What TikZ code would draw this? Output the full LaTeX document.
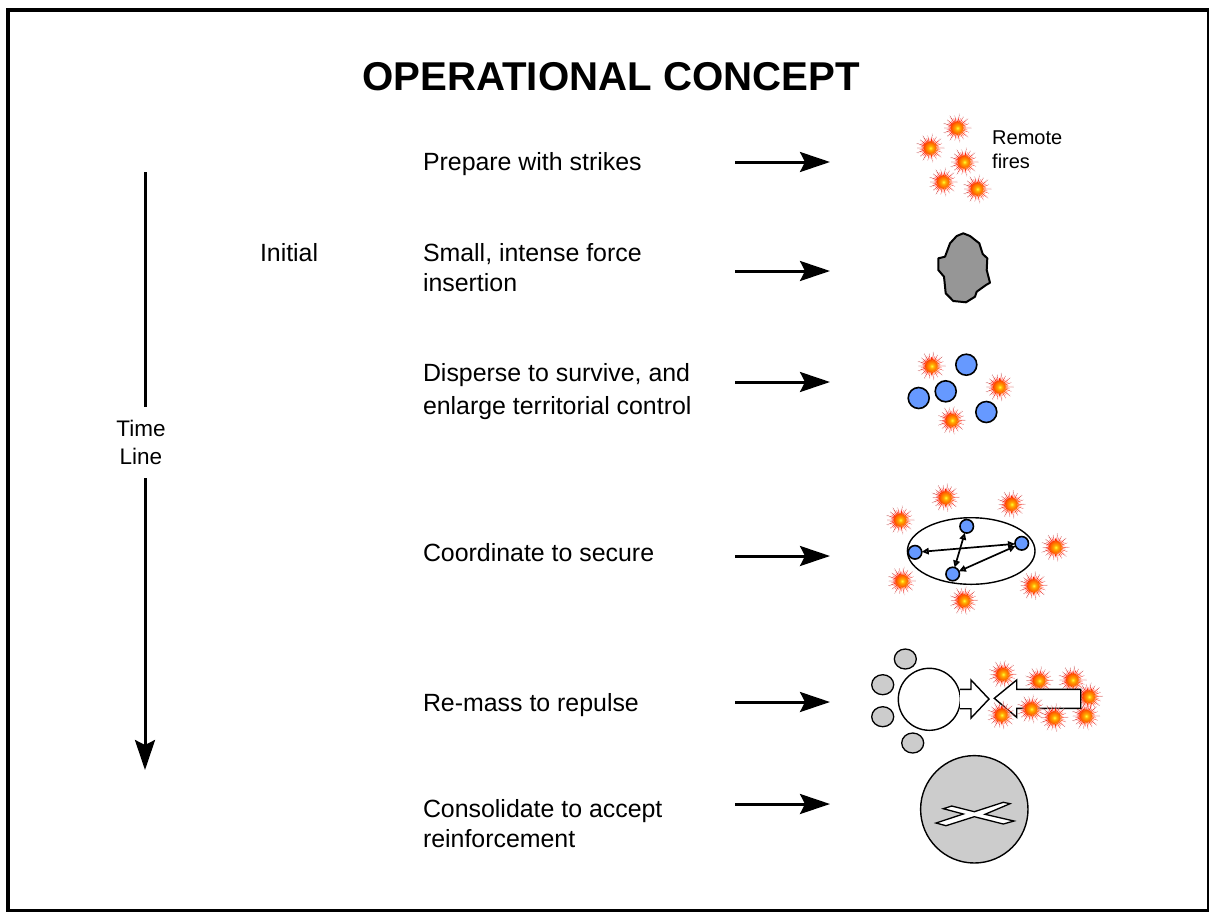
\documentclass[tikz,border=0pt]{standalone}
\usepackage{fontspec}
\setmainfont{Liberation Sans}
\usetikzlibrary{arrows.meta,shapes.geometric}
\definecolor{bluedot}{HTML}{6699FF}
\definecolor{lightgrey}{HTML}{CCCCCC}
\definecolor{blobgrey}{HTML}{969696}
\pgfdeclareradialshading{burstshade}{\pgfpoint{0bp}{0bp}}{
  color(0bp)=(yellow!80!white);
  color(4bp)=(orange!70!yellow);
  color(10bp)=(orange!75!red);
  color(16bp)=(red!90!orange);
  color(23bp)=(red!65!black);
  color(31bp)=(red!60!black);
  color(40bp)=(red!60!white);
  color(50bp)=(red!20!white)}
\gdef\burstpath{(0:14.5)}
\foreach \i in {0,...,35}{
  \pgfmathsetmacro\va{\i*10+5}
  \pgfmathsetmacro\sa{\i*10+10}
  \pgfmathparse{{10.5,13,9.5,14.5}[int(mod(\i,4))]}
  \let\sr\pgfmathresult
  \xdef\burstpath{\burstpath -- (\va:4.9) -- (\sa:\sr)}
}
\tikzset{
  burst/.pic={
    \fill[red!12!white,rotate=5] \burstpath;
    \shade[shading=burstshade] \burstpath;},
  label text/.style={anchor=west,align=left,inner sep=0pt,outer sep=0pt,font=\fontsize{24.9}{30}\selectfont,text=black},
  flow/.style={line width=3pt,-{Stealth[length=30pt,width=20pt,inset=5pt]}},
  bluedisc/.style={circle,draw=black,line width=1.6pt,fill=bluedot,inner sep=0pt,outer sep=0pt,minimum size=#1},
  greydisc/.style={ellipse,draw=black,line width=1.3pt,fill=lightgrey,inner sep=0pt,outer sep=0pt,minimum width=22pt,minimum height=20pt},
  link/.style={line width=1.7pt,{Triangle[length=7pt,width=6.5pt,fill=gray]}-{Triangle[length=7pt,width=6.5pt,fill=gray]}},
  blockarrow/.style={draw=black,line width=1.4pt,fill=white,line join=miter}
}
\begin{document}
\begin{tikzpicture}[x=1pt,y=-1pt]
\useasboundingbox (0,0) rectangle (1209,911);
\draw[line width=4pt] (8,10) rectangle (1209,911);

\node[anchor=center,inner sep=0pt,font=\fontsize{40.2}{46}\selectfont\bfseries] (title) at (611,77) {OPERATIONAL CONCEPT};

% time line
\coordinate (tstart) at (145,172);
\coordinate (tend) at (145,770);
\draw[line width=3pt,-{Stealth[length=30pt,width=20pt,inset=5pt]}] (tstart) -- (tend);
\node[fill=white,inner sep=0pt,minimum width=60pt,minimum height=71pt,align=center,font=\fontsize{22.5}{28}\selectfont] (timeline) at (141,442.5) {Time\\Line};

\node[label text] (initial) at (260,253) {Initial};
\node[label text] (t1) at (423,164) {Prepare with strikes};
\node[label text] (t2) at (423,268) {Small, intense force\\insertion};
\node[label text,font=\fontsize{24.9}{33}\selectfont] (t3) at (423,392) {Disperse to survive, and\\enlarge territorial control};
\node[label text] (t4) at (423,553) {Coordinate to secure};
\node[label text] (t5) at (423,705) {Re-mass to repulse};
\node[label text] (t6) at (423,824) {Consolidate to accept\\reinforcement};

% flow arrows
\foreach \n/\y in {1/162,2/271,3/382,4/556,5/702,6/804}{
  \coordinate (a\n) at (735,\y);
  \coordinate (b\n) at (830,\y);
  \draw[flow] (a\n) -- (b\n);
}

% row 1
\foreach \x/\y in {957/128,930/148,964/162,943/182,977/189}{\pic at (\x,\y) {burst};}
\node[anchor=west,align=left,inner sep=0pt,font=\fontsize{20}{24}\selectfont] (remote) at (992,150) {Remote\\fires};

% row 2
\draw[line width=2pt,fill=blobgrey,line join=round] (963.3,233.3) -- (970,236) -- (979.3,243.3) -- (982.7,254) -- (987.3,258.3) -- (986.7,270) -- (990,282.7) -- (986,285) -- (976.7,291.7) -- (975,296.7) -- (966,302.3) -- (953.3,301) -- (945.7,293.3) -- (944,276.7) -- (938.3,270) -- (938.3,258.3) -- (945,256.7) -- (950,243.3) -- (956.7,236) -- cycle;

% row 3
\foreach \x/\y in {931.3/366,999.3/387,951.7/420.3}{\pic at (\x,\y) {burst};}
\node[bluedisc=21pt] (d1) at (966.3,364.7) {};
\node[bluedisc=21pt] (d2) at (945.7,391.3) {};
\node[bluedisc=21pt] (d3) at (918.7,398) {};
\node[bluedisc=21pt] (d4) at (986.3,412) {};

% row 4
\foreach \x/\y in {945.3/497.7,1011.3/504.3,900/520,1055.3/547.3,901.7/581,1033.3/585.7,963.7/600.7}{\pic at (\x,\y) {burst};}
\node[ellipse,draw=black,line width=1.4pt,inner sep=0pt,minimum width=127.6pt,minimum height=66.6pt] (zone) at (971.2,551) {};
\node[bluedisc=13.5pt] (c1) at (966.7,526.3) {};
\node[bluedisc=13.5pt] (c2) at (915,552.3) {};
\node[bluedisc=13.5pt] (c3) at (1021.7,543.3) {};
\node[bluedisc=13.5pt] (c4) at (952.7,574) {};
\draw[link] (c2) -- (c3);
\draw[link] (c1) -- (c4);
\draw[link] (c4) -- (c3);

% row 5
\foreach \x/\y in {1002.7/674.3,1039/680.7,1072.3/680,1085.7/716}{\pic at (\x,\y) {burst};}
\pic at (1088.7,696.7) {burst};
\node[greydisc] (g1) at (905.3,659) {};
\node[greydisc] (g2) at (882.7,684.7) {};
\node[greydisc] (g3) at (882.7,716.7) {};
\node[greydisc] (g4) at (912.7,743) {};
\node[circle,draw=black,line width=1.4pt,fill=white,inner sep=0pt,minimum size=62pt] (big) at (929.3,699.3) {};
\draw[blockarrow] (960,689.3) -- (971,689.3) -- (971,680) -- (989,699) -- (971,718) -- (971,708.7) -- (960,708.7);
\draw[blockarrow] (994.3,698.3) -- (1016.7,680) -- (1016.7,689.3) -- (1080.7,689.3) -- (1080.7,708.3) -- (1016.7,708.3) -- (1016.7,717.3) -- cycle;
\foreach \x/\y in {1054/717.7,1031/709,1001.3/715}{\pic at (\x,\y) {burst};}

% row 6
\node[circle,draw=black,line width=1.4pt,fill=lightgrey,inner sep=0pt,minimum size=107.4pt] (base) at (974.3,809.3) {};
\draw[line width=1.3pt,fill=white,line join=miter] (943.3,808.7) -- (951.7,806) -- (974.3,811.7) -- (1003.3,802.3) -- (1010,803.7) -- (985,814.3) -- (1014,821) -- (1003.3,824) -- (974.3,816.7) -- (946,825.7) -- (936,823) -- (963.3,814) -- cycle;
\end{tikzpicture}
\end{document}
